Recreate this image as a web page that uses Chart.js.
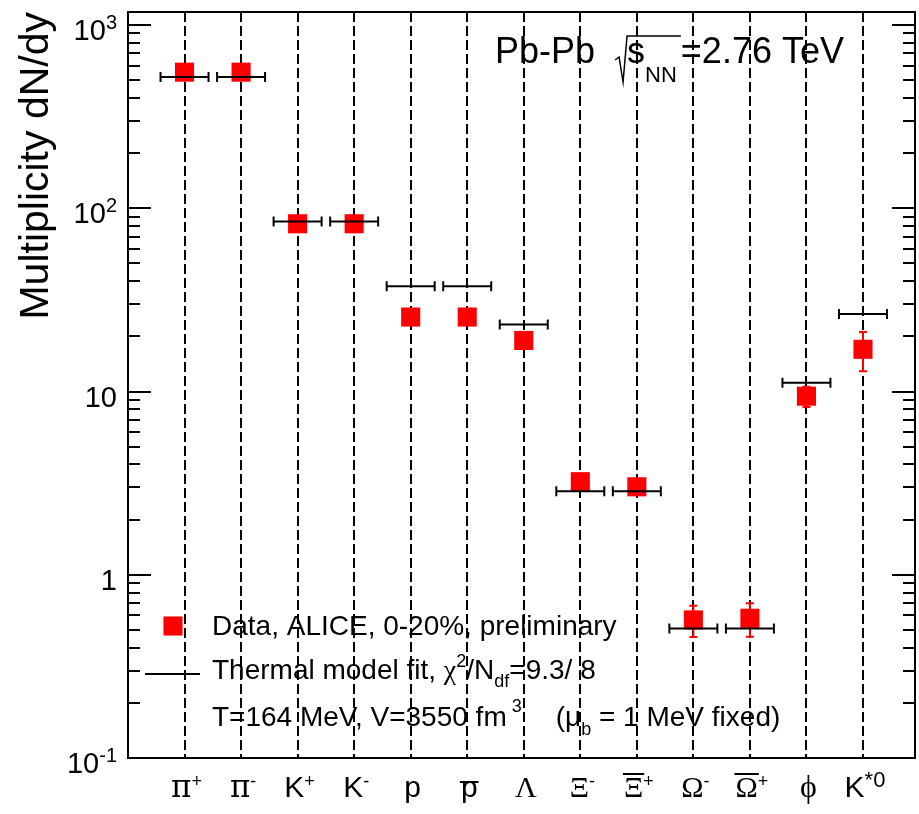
<!DOCTYPE html>
<html>
<head>
<meta charset="utf-8">
<script src="https://cdn.jsdelivr.net/npm/chart.js@4.4.0/dist/chart.umd.min.js"></script>
<style>
  body { margin: 0; background: #fff; }
</style>
</head>
<body>
<canvas id="multChart" width="919" height="814"></canvas>
<script>
// particle species on the x axis
const particles = ['π', 'π', 'K', 'K', 'p', 'p', 'Λ', 'Ξ', 'Ξ', 'Ω', 'Ω', 'ϕ', 'K'];
const charges   = ['+', '-', '+', '-', '', '', '', '-', '+', '-', '+', '', '*0'];
const antiBar   = [false, false, false, false, false, true, false, false, true, false, true, false, false];

// measured yields dN/dy and errors
const dndy    = [553, 553, 82.3, 82.3, 25.5, 25.5, 19.0, 3.22, 3.02, 0.567, 0.579, 9.43, 17.0];
const dndyErr = [30, 30, 6, 6, 2, 2, 1.3, 0.2, 0.2, 0.11, 0.12, 1.2, 4.1];

// thermal model fit values
const thermalFit = [520, 520, 84.7, 84.7, 37.5, 37.5, 23.2, 2.86, 2.86, 0.509, 0.509, 11.15, 26.5];

// y axis labels
const yTickValues = [0.1, 1, 10, 100, 1000];
const yTickBase   = ['10', '1', '10', '10', '10'];
const yTickExp    = ['-1', '', '', '2', '3'];

const SANS = '"Liberation Sans", Arial, Helvetica, sans-serif';
const SERIF = '"Liberation Serif", "Times New Roman", serif';
const DSERIF = '"DejaVu Serif", serif';
const GREEK = /[πΛΞΩϕφχμ]/;
const FIT_HALF = 24;      // half width of the fit marker in px
const SQ_RADIUS = 13.5;   // rect point radius

function f(px, fam) { return px + 'px ' + (fam || SANS); }

// draws a run of text pieces (with sub/superscripts) left to right, returns end x
function drawParts(ctx, x, y, parts, dryRun) {
    let cx = x;
    for (const p of parts) {
        ctx.font = p.font;
        cx += p.dx || 0;
        if (!dryRun) ctx.fillText(p.text, cx, y + (p.dy || 0));
        cx += ctx.measureText(p.text).width;
    }
    return cx;
}

function labelFont(p) {
    if (!GREEK.test(p)) return f(30);
    if (p === 'π') return f(31, DSERIF);
    if (p === 'ϕ') return f(32, SERIF);
    return f(30, SERIF);
}

const decorations = {
    id: 'decorations',
    beforeDatasetsDraw(chart) {
        const ctx = chart.ctx;
        const area = chart.chartArea;
        const xs = chart.scales.x, ys = chart.scales.y;
        ctx.save();
        // dashed vertical lines at each species
        ctx.strokeStyle = '#000';
        ctx.lineWidth = 2;
        ctx.setLineDash([10, 4]);
        particles.forEach((_, i) => {
            const x = Math.round(xs.getPixelForValue(i));
            ctx.beginPath();
            ctx.moveTo(x, area.top);
            ctx.lineTo(x, area.bottom);
            ctx.stroke();
        });
        ctx.setLineDash([]);
        // error bars on the data points
        ctx.strokeStyle = '#ff0000';
        dndy.forEach((v, i) => {
            const x = xs.getPixelForValue(i);
            const y1 = ys.getPixelForValue(v + dndyErr[i]);
            const y2 = ys.getPixelForValue(v - dndyErr[i]);
            ctx.beginPath();
            ctx.moveTo(x, y1); ctx.lineTo(x, y2);
            ctx.moveTo(x - 4, y1); ctx.lineTo(x + 4, y1);
            ctx.moveTo(x - 4, y2); ctx.lineTo(x + 4, y2);
            ctx.stroke();
        });
        ctx.restore();
    },
    afterDatasetsDraw(chart) {
        const ctx = chart.ctx;
        const area = chart.chartArea;
        const xs = chart.scales.x, ys = chart.scales.y;
        ctx.save();
        ctx.strokeStyle = '#000';
        ctx.fillStyle = '#000';
        ctx.lineWidth = 2;

        // end caps of the fit markers
        thermalFit.forEach((v, i) => {
            const x = xs.getPixelForValue(i), y = ys.getPixelForValue(v);
            ctx.beginPath();
            ctx.moveTo(x - FIT_HALF, y - 5); ctx.lineTo(x - FIT_HALF, y + 5);
            ctx.moveTo(x + FIT_HALF, y - 5); ctx.lineTo(x + FIT_HALF, y + 5);
            ctx.stroke();
        });

        // frame
        ctx.strokeRect(area.left, area.top, area.right - area.left, area.bottom - area.top);

        // log ticks on both sides, pointing inwards
        ctx.beginPath();
        for (let d = -1; d <= 3; d++) {
            for (let m = 1; m <= 9; m++) {
                const v = m * Math.pow(10, d);
                if (v > ys.max) continue;
                const y = Math.round(ys.getPixelForValue(v));
                const len = m === 1 ? 23 : 12;
                ctx.moveTo(area.left, y); ctx.lineTo(area.left + len, y);
                ctx.moveTo(area.right, y); ctx.lineTo(area.right - len, y);
            }
        }
        ctx.stroke();

        // y tick labels
        ctx.textBaseline = 'alphabetic';
        ctx.textAlign = 'left';
        yTickValues.forEach((v, i) => {
            const y = ys.getPixelForValue(v) + 15;
            const parts = [{ text: yTickBase[i], font: f(29) }];
            if (yTickExp[i]) parts.push({ text: yTickExp[i], font: f(20), dy: -11 });
            const w = drawParts(ctx, 0, 0, parts, true);
            drawParts(ctx, area.left - 11 - w, y, parts);
        });

        // x tick labels
        particles.forEach((p, i) => {
            const cx = xs.getPixelForValue(i) + 2;
            const base = { text: p, font: labelFont(p) };
            const parts = [base];
            if (charges[i]) {
                parts.push({ text: charges[i], font: charges[i] === '*0' ? f(22) : f(18), dy: -10 });
            }
            const w = drawParts(ctx, 0, 0, parts, true);
            const x0 = cx - w / 2;
            const baseY = area.bottom + 39;
            drawParts(ctx, x0, baseY, parts);
            if (antiBar[i]) {
                ctx.font = base.font;
                const bw = ctx.measureText(p).width;
                const by = p === 'p' ? baseY - 15 : baseY - 23;
                ctx.beginPath();
                ctx.moveTo(x0 - 1, by); ctx.lineTo(x0 + bw + 1, by);
                ctx.stroke();
            }
        });

        // y axis title
        ctx.save();
        ctx.translate(48, area.top);
        ctx.rotate(-Math.PI / 2);
        ctx.textAlign = 'right';
        ctx.font = f(41);
        ctx.fillText('Multiplicity dN/dy', 0, 0);
        ctx.restore();

        // collision system label
        ctx.textAlign = 'left';
        let x = drawParts(ctx, 495, 63, [{ text: 'Pb-Pb', font: f(36) }]);
        const r0 = x + 20;
        const sx = r0 + 12;
        let end = drawParts(ctx, sx, 63, [
            { text: 's', font: f(36) },
            { text: 'NN', font: f(22), dy: 19 }
        ]);
        ctx.lineWidth = 1.5;
        ctx.beginPath();
        ctx.moveTo(r0, 60); ctx.lineTo(r0 + 4, 57);
        ctx.lineTo(r0 + 8, 82); ctx.lineTo(r0 + 12, 36);
        ctx.lineTo(end + 4, 36);
        ctx.stroke();
        ctx.lineWidth = 2;
        drawParts(ctx, end + 4, 63, [{ text: '=2.76 TeV', font: f(36) }]);

        // legend
        const lx = area.left + 84;
        const side = 2 * Math.SQRT1_2 * SQ_RADIUS;
        ctx.fillStyle = '#ff0000';
        ctx.fillRect(area.left + 45 - side / 2, 626 - side / 2, side, side);
        ctx.fillStyle = '#000';
        ctx.beginPath();
        ctx.moveTo(area.left + 17, 674); ctx.lineTo(area.left + 72, 674);
        ctx.stroke();
        drawParts(ctx, lx, 635, [{ text: 'Data, ALICE, 0-20%, preliminary', font: f(28) }]);
        drawParts(ctx, lx, 679, [
            { text: 'Thermal model fit, ', font: f(28) },
            { text: 'χ', font: f(28, SERIF) },
            { text: '2', font: f(18), dy: -12 },
            { text: '/N', font: f(28) },
            { text: 'df', font: f(18), dy: 8 },
            { text: '=9.3/ 8', font: f(28) }
        ]);
        drawParts(ctx, lx, 726, [
            { text: 'T=164 MeV, V=3550 fm', font: f(28) },
            { text: '3', font: f(18), dy: -14, dx: 5 },
            { text: '(', font: f(28), dx: 34 },
            { text: 'μ', font: f(28) },
            { text: 'b', font: f(18), dy: 9 },
            { text: ' = 1 MeV fixed)', font: f(28) }
        ]);
        ctx.restore();
    }
};

new Chart(document.getElementById('multChart'), {
    type: 'scatter',
    data: {
        datasets: [{
            label: 'Thermal model fit',
            data: thermalFit.map((v, i) => ({ x: i, y: v })),
            pointStyle: 'line',
            pointRadius: FIT_HALF,
            pointHoverRadius: FIT_HALF,
            borderColor: '#000',
            borderWidth: 2,
            order: 0
        }, {
            label: 'Data, ALICE, 0-20%, preliminary',
            data: dndy.map((v, i) => ({ x: i, y: v })),
            pointStyle: 'rect',
            pointRadius: SQ_RADIUS,
            pointHoverRadius: SQ_RADIUS,
            backgroundColor: '#ff0000',
            borderWidth: 0,
            order: 1
        }]
    },
    options: {
        responsive: false,
        animation: false,
        layout: { autoPadding: false, padding: { left: 128, top: 12, right: 4, bottom: 56 } },
        scales: {
            x: { type: 'linear', min: -1, max: 12.92, display: false },
            y: { type: 'logarithmic', min: 0.1, max: 1178, display: false }
        },
        plugins: {
            legend: { display: false },
            tooltip: { enabled: false }
        }
    },
    plugins: [decorations]
});
</script>
</body>
</html>
